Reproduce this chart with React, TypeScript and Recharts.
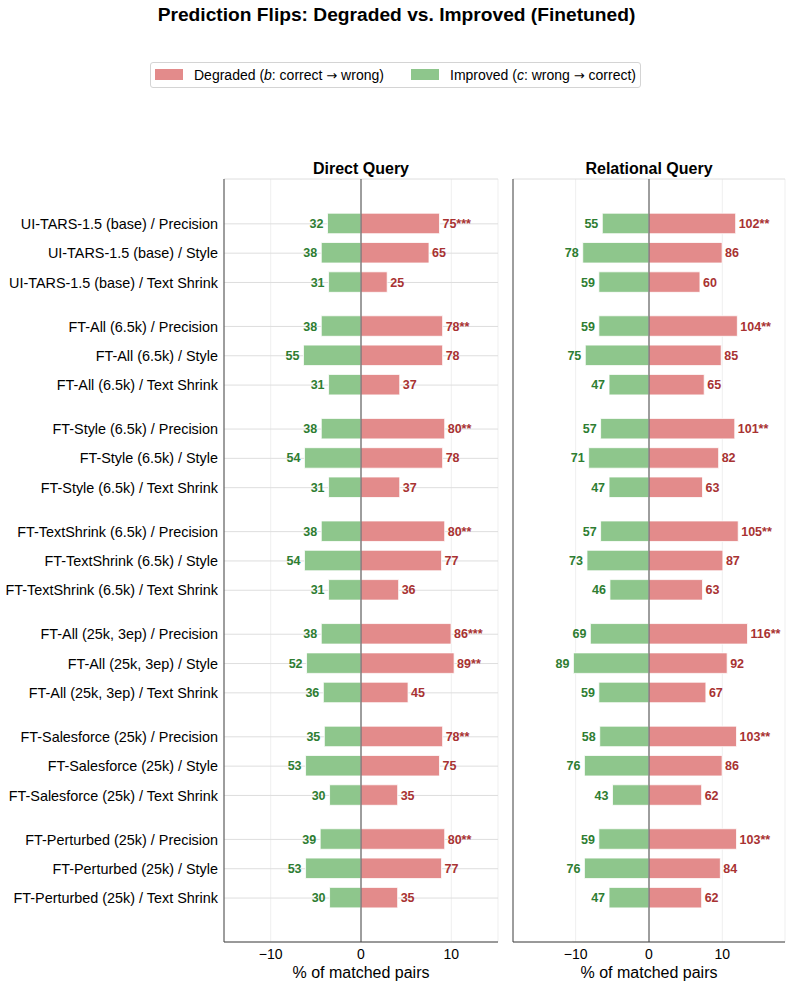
import React from 'react';
import { ComposedChart, Bar, XAxis, YAxis, CartesianGrid, ReferenceLine, LabelList } from 'recharts';

const models = [
  'UI-TARS-1.5 (base)',
  'FT-All (6.5k)',
  'FT-Style (6.5k)',
  'FT-TextShrink (6.5k)',
  'FT-All (25k, 3ep)',
  'FT-Salesforce (25k)',
  'FT-Perturbed (25k)',
];
const perturbations = ['Precision', 'Style', 'Text Shrink'];

// Direct Query
const directDegradedCounts = [75, 65, 25, 78, 78, 37, 80, 78, 37, 80, 77, 36, 86, 89, 45, 78, 75, 35, 80, 77, 35];
const directImprovedCounts = [32, 38, 31, 38, 55, 31, 38, 54, 31, 38, 54, 31, 38, 52, 36, 35, 53, 30, 39, 53, 30];
const directDegradedPct = [8.69, 7.53, 2.9, 9.04, 9.04, 4.29, 9.27, 9.04, 4.29, 9.27, 8.92, 4.17, 9.97, 10.31, 5.21, 9.04, 8.69, 4.06, 9.27, 8.92, 4.06];
const directImprovedPct = [3.71, 4.4, 3.59, 4.4, 6.37, 3.59, 4.4, 6.26, 3.59, 4.4, 6.26, 3.59, 4.4, 6.03, 4.17, 4.06, 6.14, 3.48, 4.52, 6.14, 3.48];
const directSig = ['***', '', '', '**', '', '', '**', '', '', '**', '', '', '***', '**', '', '**', '', '', '**', '', ''];

// Relational Query
const relDegradedCounts = [102, 86, 60, 104, 85, 65, 101, 82, 63, 105, 87, 63, 116, 92, 67, 103, 86, 62, 103, 84, 62];
const relImprovedCounts = [55, 78, 59, 59, 75, 47, 57, 71, 47, 57, 73, 46, 69, 89, 59, 58, 76, 43, 59, 76, 47];
const relDegradedPct = [11.82, 9.97, 6.95, 12.05, 9.85, 7.53, 11.7, 9.5, 7.3, 12.17, 10.08, 7.3, 13.44, 10.66, 7.76, 11.94, 9.97, 7.18, 11.94, 9.73, 7.18];
const relImprovedPct = [6.37, 9.04, 6.84, 6.84, 8.69, 5.45, 6.6, 8.23, 5.45, 6.6, 8.46, 5.33, 8.0, 10.31, 6.84, 6.72, 8.81, 4.98, 6.84, 8.81, 5.45];
const relSig = ['**', '', '', '**', '', '', '**', '', '', '**', '', '', '**', '', '', '**', '', '', '**', '', ''];

const xTicks = [-10, 0, 10];

const FONT = '"Liberation Sans", Arial, Helvetica, sans-serif';
const ARROW_FONT = '"DejaVu Sans", sans-serif';
const RED = '#e38b8b';
const GREEN = '#8ec68c';
const RED_TEXT = '#a83232';
const GREEN_TEXT = '#2e7d32';
const AXIS = '#444444';

type Row = { pos: number; label: string; imp: number; deg: number; impLabel: string; degLabel: string };

function buildRows(degPct: number[], impPct: number[], degCnt: number[], impCnt: number[], sig: string[]): Row[] {
  const rows: Row[] = [];
  models.forEach((m, g) => {
    perturbations.forEach((p, j) => {
      const i = g * 3 + j;
      rows.push({
        pos: g * 3.5 + j,
        label: `${m} / ${p}`,
        imp: -impPct[i],
        deg: degPct[i],
        impLabel: String(impCnt[i]),
        degLabel: `${degCnt[i]}${sig[i]}`,
      });
    });
  });
  return rows;
}

const directRows = buildRows(directDegradedPct, directImprovedPct, directDegradedCounts, directImprovedCounts, directSig);
const relRows = buildRows(relDegradedPct, relImprovedPct, relDegradedCounts, relImprovedCounts, relSig);
const yTicks = directRows.map((r) => r.pos);
const labelByPos = new Map(directRows.map((r) => [r.pos, r.label]));

const fmtX = (v: number) => (v < 0 ? `\u2212${Math.abs(v)}` : String(v));

const RightLabel = (props: any) => {
  const x = Number(props.x), w = Number(props.width), y = Number(props.y), h = Number(props.height);
  const right = Math.max(x, x + w);
  return (
    <text x={right + 3} y={y + h / 2} dy="0.36em" textAnchor="start" fontSize={12.5} fontWeight="bold" fill={RED_TEXT} fontFamily={FONT}>
      {props.value}
    </text>
  );
};

const LeftLabel = (props: any) => {
  const x = Number(props.x), w = Number(props.width), y = Number(props.y), h = Number(props.height);
  const left = Math.min(x, x + w);
  return (
    <text x={left - 4} y={y + h / 2} dy="0.36em" textAnchor="end" fontSize={12.5} fontWeight="bold" fill={GREEN_TEXT} fontFamily={FONT}>
      {props.value}
    </text>
  );
};

function Panel(props: { rows: Row[]; xMax: number; width: number; yAxisWidth: number; rightMargin: number; showYLabels: boolean }) {
  const { rows, xMax, width, yAxisWidth, rightMargin, showYLabels } = props;
  return (
    <ComposedChart
      layout="vertical"
      width={width}
      height={987}
      data={rows}
      stackOffset="sign"
      margin={{ top: 179, right: rightMargin, bottom: 0, left: 0 }}
    >
      <CartesianGrid horizontal={false} stroke="#efefef" strokeWidth={1} />
      <CartesianGrid vertical={false} stroke="#dedede" strokeWidth={1} />
      <XAxis
        type="number"
        domain={[-xMax, xMax]}
        allowDataOverflow
        ticks={xTicks}
        tickFormatter={fmtX}
        tickLine={false}
        tickSize={0}
        tickMargin={7}
        height={45}
        axisLine={{ stroke: AXIS, strokeWidth: 1 }}
        tick={{ fontSize: 14, fill: '#000', fontFamily: FONT }}
        label={{ value: '% of matched pairs', position: 'insideBottom', offset: 9, fontSize: 16, fill: '#000', fontFamily: FONT }}
      />
      <YAxis
        type="number"
        dataKey="pos"
        domain={[-1.53, 24.5]}
        allowDataOverflow
        ticks={yTicks}
        interval={0}
        tickFormatter={(v: number) => labelByPos.get(v) || ''}
        tickLine={false}
        tickSize={0}
        tickMargin={6}
        width={yAxisWidth}
        axisLine={{ stroke: AXIS, strokeWidth: 1 }}
        tick={showYLabels ? { fontSize: 14.4, fill: '#000', fontFamily: FONT } : false}
      />
      <Bar dataKey="imp" stackId="s" fill={GREEN} stroke="#ffffff" strokeWidth={0.8} barSize={20.5} isAnimationActive={false}>
        <LabelList dataKey="impLabel" content={LeftLabel} />
      </Bar>
      <Bar dataKey="deg" stackId="s" fill={RED} stroke="#ffffff" strokeWidth={0.8} barSize={20.5} isAnimationActive={false}>
        <LabelList dataKey="degLabel" content={RightLabel} />
      </Bar>
      <ReferenceLine x={0} stroke={AXIS} strokeWidth={1} />
    </ComposedChart>
  );
}

const abs = (left: number, top: number): React.CSSProperties => ({ position: 'absolute', left, top });

export default function App() {
  return (
    <div style={{ position: 'absolute', left: 0, top: 0, width: 793, height: 987, background: '#fff', fontFamily: FONT, color: '#000' }}>
      <div style={{ ...abs(0, 0), width: 793, height: 29, lineHeight: '29px', textAlign: 'center', fontSize: 19.2, fontWeight: 'bold' }}>
        Prediction Flips: Degraded vs. Improved (Finetuned)
      </div>

      <div style={{ ...abs(150, 62), width: 491, height: 26, boxSizing: 'border-box', border: '1px solid #d4d4d4', borderRadius: 3 }}>
        <div style={{ ...abs(4, 6), width: 28, height: 11, background: RED }} />
        <div style={{ ...abs(43, 0), height: 24, lineHeight: '24px', fontSize: 14, whiteSpace: 'nowrap' }}>
          Degraded (<i>b</i>: correct <span style={{ fontFamily: ARROW_FONT, fontSize: 13 }}>→</span> wrong)
        </div>
        <div style={{ ...abs(260, 6), width: 28, height: 11, background: GREEN }} />
        <div style={{ ...abs(299, 0), height: 24, lineHeight: '24px', fontSize: 14, whiteSpace: 'nowrap' }}>
          Improved (<i>c</i>: wrong <span style={{ fontFamily: ARROW_FONT, fontSize: 13 }}>→</span> correct)
        </div>
      </div>

      <div style={{ ...abs(224, 159), width: 274, height: 20, lineHeight: '20px', textAlign: 'center', fontSize: 16, fontWeight: 'bold' }}>
        Direct Query
      </div>
      <div style={{ ...abs(513, 159), width: 272, height: 20, lineHeight: '20px', textAlign: 'center', fontSize: 16, fontWeight: 'bold' }}>
        Relational Query
      </div>

      <div style={abs(0, 0)}>
        <Panel rows={directRows} xMax={15.17} width={500} yAxisWidth={224} rightMargin={2} showYLabels={true} />
      </div>
      <div style={abs(500, 0)}>
        <Panel rows={relRows} xMax={18.55} width={293} yAxisWidth={13} rightMargin={8} showYLabels={false} />
      </div>
    </div>
  );
}
